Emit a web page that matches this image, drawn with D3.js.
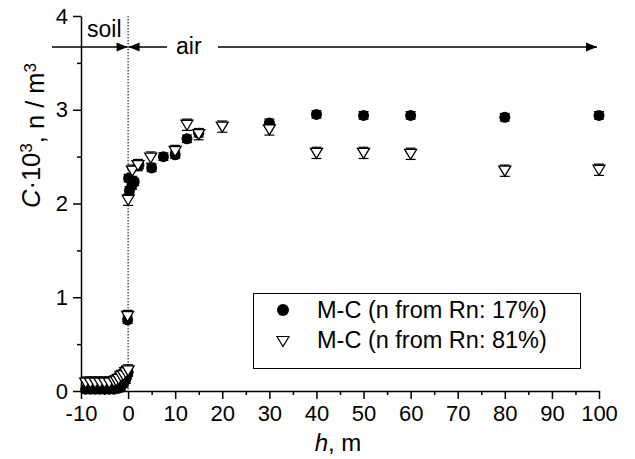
<!DOCTYPE html>
<html>
<head>
<meta charset="utf-8">
<script src="https://cdn.jsdelivr.net/npm/d3@7"></script>
<style>
  body { margin: 0; background: #fff; }
  svg { display: block; font-family: "Liberation Sans", Arial, sans-serif; }
  .axis path, .axis line { stroke: #000; stroke-width: 1.5; }
  .axis text { fill: #000; font-size: 22px; }
</style>
</head>
<body>
<svg id="chart" width="635" height="459"></svg>
<script>
// M-C, n from Rn: 17%  (filled circles)
var hCircle = [-9, -8, -7, -6, -5, -4, -3, -2, -1.5, -1, -0.5, -0.2, 0, -0.1,
               0.1, 0.3, 0.8, 1.3, 2.3, 5, 7.5, 10, 12.5, 15, 30, 40, 50, 60, 80, 100];
var cCircle = [0.02, 0.02, 0.02, 0.02, 0.02, 0.02, 0.02, 0.03, 0.05, 0.08, 0.12, 0.17, 0.2, 0.76,
               2.27, 2.14, 2.19, 2.23, 2.41, 2.38, 2.5, 2.52, 2.69, 2.75, 2.86, 2.95, 2.94, 2.94, 2.92, 2.94];
var errCircle = 0.04;

// M-C, n from Rn: 81%  (open triangles)
var hTri = [-9, -8, -7, -6, -5, -4, -3, -2.5, -2, -1.5, -1, -0.5, 0, -0.1,
            0, 0.9, 2.1, 4.8, 10, 12.5, 15, 20, 30, 40, 50, 60, 80, 100];
var cTri = [0.09, 0.09, 0.09, 0.09, 0.09, 0.09, 0.1, 0.11, 0.13, 0.16, 0.17, 0.2, 0.22, 0.8,
            2.04, 2.35, 2.41, 2.49, 2.56, 2.84, 2.74, 2.82, 2.79, 2.54, 2.54, 2.53, 2.35, 2.36];
var errTri = 0.06;

var xTicks = [-10, 0, 10, 20, 30, 40, 50, 60, 70, 80, 90, 100];
var xMinor = [-5, 5, 15, 25, 35, 45, 55, 65, 75, 85, 95];
var yTicks = [0, 1, 2, 3, 4];
var yMinor = [0.5, 1.5, 2.5, 3.5];

var legendLabels = ["M-C (n from Rn: 17%)", "M-C (n from Rn: 81%)"];

var svg = d3.select("#chart");

var x = d3.scaleLinear().domain([-10, 100]).range([81, 599]);
var y = d3.scaleLinear().domain([0, 4]).range([391, 16]);
var plain = function (d) { return String(d); };

// axes (only left + bottom)
svg.append("g").attr("class", "axis")
  .attr("transform", "translate(0," + y(0) + ")")
  .call(d3.axisBottom(x).tickValues(xMinor).tickSize(4).tickFormat(""))
  .select(".domain").remove();
svg.append("g").attr("class", "axis")
  .attr("transform", "translate(0," + y(0) + ")")
  .call(d3.axisBottom(x).tickValues(xTicks).tickSize(8).tickSizeOuter(0).tickPadding(6).tickFormat(plain));

svg.append("g").attr("class", "axis")
  .attr("transform", "translate(" + x(-10) + ",0)")
  .call(d3.axisLeft(y).tickValues(yMinor).tickSize(4).tickFormat(""))
  .select(".domain").remove();
svg.append("g").attr("class", "axis")
  .attr("transform", "translate(" + x(-10) + ",0)")
  .call(d3.axisLeft(y).tickValues(yTicks).tickSize(8).tickSizeOuter(0).tickPadding(5).tickFormat(plain));

// soil / air boundary
svg.append("line")
  .attr("x1", x(0)).attr("x2", x(0))
  .attr("y1", y(4)).attr("y2", y(0))
  .attr("stroke", "#000").attr("stroke-width", 1)
  .attr("stroke-dasharray", "1.5,1.5");

// arrows
var ay = 47;
function arrow(x1, x2) {
  svg.append("line").attr("x1", x1).attr("x2", x2).attr("y1", ay).attr("y2", ay)
    .attr("stroke", "#000").attr("stroke-width", 1.5);
  var dir = x2 > x1 ? 1 : -1;
  svg.append("path")
    .attr("d", "M" + x2 + "," + ay + "l" + (-11 * dir) + ",-4.5v9z")
    .attr("fill", "#000");
}
arrow(52, x(0) - 0.5);
arrow(167, x(0) + 0.5);
arrow(218, 597);
svg.append("text").attr("x", 87).attr("y", 37).attr("font-size", 23).text("soil");
svg.append("text").attr("x", 176).attr("y", 54).attr("font-size", 23).text("air");

// data
function errBars(hs, cs, err) {
  var g = svg.append("g").attr("stroke", "#000").attr("stroke-width", 1.2);
  hs.forEach(function (h, i) {
    var px = x(h), y1 = y(cs[i] - err), y2 = y(cs[i] + err);
    g.append("line").attr("x1", px).attr("x2", px).attr("y1", y1).attr("y2", y2);
    g.append("line").attr("x1", px - 5).attr("x2", px + 5).attr("y1", y1).attr("y2", y1);
    g.append("line").attr("x1", px - 5).attr("x2", px + 5).attr("y1", y2).attr("y2", y2);
  });
}
var triPath = "M-6,-4.5L6,-4.5L0,5.5Z";

errBars(hCircle, cCircle, errCircle);
svg.append("g").selectAll("circle")
  .data(hCircle)
  .enter().append("circle")
  .attr("cx", function (d) { return x(d); })
  .attr("cy", function (d, i) { return y(cCircle[i]); })
  .attr("r", 5.5)
  .attr("fill", "#000");

errBars(hTri, cTri, errTri);
svg.append("g").selectAll("path")
  .data(hTri)
  .enter().append("path")
  .attr("d", triPath)
  .attr("transform", function (d, i) { return "translate(" + x(d) + "," + y(cTri[i]) + ")"; })
  .attr("fill", "#fff").attr("stroke", "#000").attr("stroke-width", 1.3);

// legend
var lg = svg.append("g");
lg.append("rect").attr("x", 253.5).attr("y", 293.5).attr("width", 327).attr("height", 75)
  .attr("fill", "#fff").attr("stroke", "#000").attr("stroke-width", 1);
lg.append("circle").attr("cx", 283).attr("cy", 310).attr("r", 6).attr("fill", "#000");
lg.append("path").attr("d", triPath).attr("transform", "translate(283,341)")
  .attr("fill", "#fff").attr("stroke", "#000").attr("stroke-width", 1.2);
lg.selectAll("text.lab").data(legendLabels).enter().append("text")
  .attr("class", "lab")
  .attr("x", 317).attr("y", function (d, i) { return 318 + i * 30; })
  .attr("font-size", 23.5).text(function (d) { return d; });

// axis titles
var xt = svg.append("text").attr("x", 338).attr("y", 451).attr("text-anchor", "middle").attr("font-size", 24);
xt.append("tspan").attr("font-style", "italic").text("h");
xt.append("tspan").text(", m");

var yt = svg.append("text").attr("transform", "translate(40,208) rotate(-90)").attr("font-size", 25.5);
yt.append("tspan").attr("font-style", "italic").text("C");
yt.append("tspan").text("\u00b710");
yt.append("tspan").attr("dy", "-0.45em").attr("font-size", 17).text("3");
yt.append("tspan").attr("dy", "0.45em").text(", n / m");
yt.append("tspan").attr("dy", "-0.45em").attr("font-size", 17).text("3");
</script>
</body>
</html>
